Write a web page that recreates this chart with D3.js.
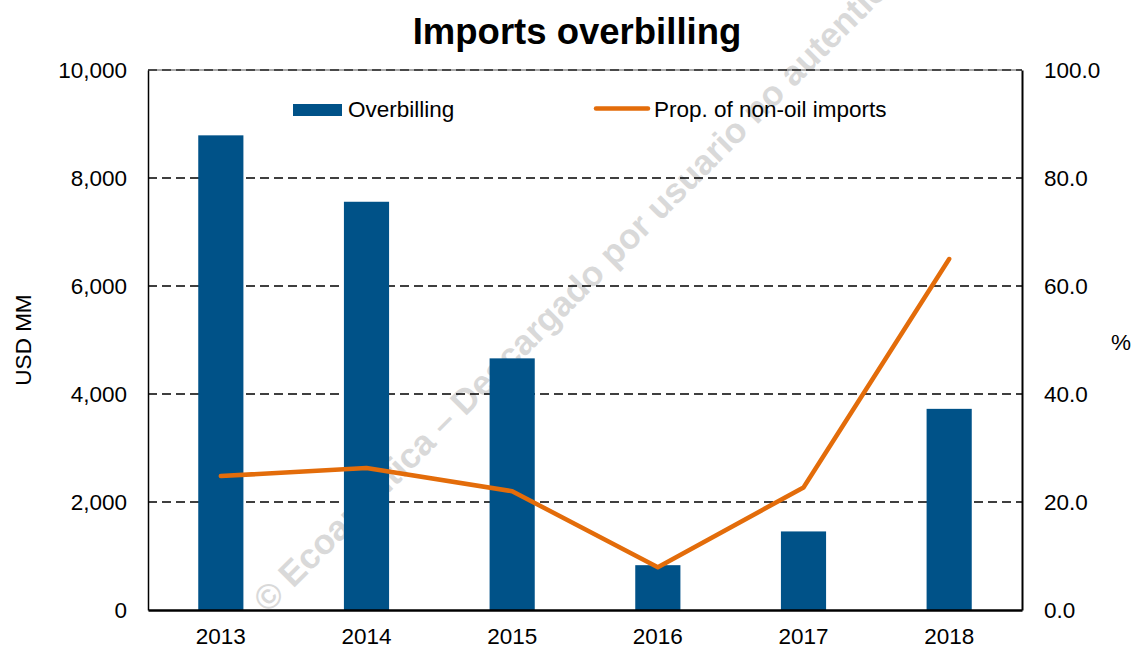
<!DOCTYPE html>
<html>
<head>
<meta charset="utf-8">
<script src="https://cdn.jsdelivr.net/npm/d3@7"></script>
<style>
    body { margin: 0; background: #fff; }
    svg { display: block; font-family: "Liberation Sans", Arial, sans-serif; }
</style>
</head>
<body>
<svg id="chart" width="1132" height="648"></svg>
<script>
// Data
const years = ["2013", "2014", "2015", "2016", "2017", "2018"];
const overbilling = [8790, 7560, 4660, 830, 1455, 3725]; // USD MM
const propNonOil = [24.8, 26.3, 22.0, 7.9, 22.7, 65.0];  // %
const leftTicks = [0, 2000, 4000, 6000, 8000, 10000];
const rightTicks = [0, 20, 40, 60, 80, 100];

const svg = d3.select("#chart");
const margin = { left: 148, right: 1022, top: 70, bottom: 610 };
const barColor = "#005288";
const lineColor = "#E36C0A";
const fontSize = 22.5;

const x = d3.scaleBand()
    .domain(years)
    .range([margin.left, margin.right])
    .paddingInner(0.69)
    .paddingOuter(0.345);
const yLeft = d3.scaleLinear().domain([0, 10000]).range([margin.bottom, margin.top]);
const yRight = d3.scaleLinear().domain([0, 100]).range([margin.bottom, margin.top]);

// Watermark (behind everything)
svg.append("text")
    .attr("transform", "translate(268,614) rotate(-45)")
    .attr("font-size", 35)
    .attr("font-weight", "bold")
    .attr("fill", "#d9d9d9")
    .text("© Ecoanalítica – Descargado por usuario no autenticado");

// Gridlines
svg.append("g")
    .selectAll("line")
    .data(leftTicks.filter(d => d > 0))
    .enter()
    .append("line")
    .attr("x1", margin.left)
    .attr("x2", margin.right)
    .attr("y1", d => yLeft(d))
    .attr("y2", d => yLeft(d))
    .attr("stroke", "#000")
    .attr("stroke-width", 1.5)
    .attr("stroke-dasharray", "9,5");

svg.append("line")
    .attr("x1", margin.left).attr("x2", margin.right)
    .attr("y1", margin.top).attr("y2", margin.top)
    .attr("stroke", "#555").attr("stroke-width", 1);

// Bars
svg.append("g")
    .selectAll("rect")
    .data(overbilling)
    .enter()
    .append("rect")
    .attr("x", (d, i) => x(years[i]))
    .attr("width", x.bandwidth())
    .attr("y", d => yLeft(d))
    .attr("height", d => yLeft(0) - yLeft(d))
    .attr("fill", barColor);

// Line
const line = d3.line()
    .x((d, i) => x(years[i]) + x.bandwidth() / 2)
    .y(d => yRight(d));

svg.append("path")
    .datum(propNonOil)
    .attr("d", line)
    .attr("fill", "none")
    .attr("stroke", lineColor)
    .attr("stroke-width", 4.5)
    .attr("stroke-linejoin", "round")
    .attr("stroke-linecap", "round");

// Axes
const leftAxis = d3.axisLeft(yLeft)
    .tickValues(leftTicks)
    .tickFormat(d3.format(","))
    .tickSize(0)
    .tickPadding(21);
const rightAxis = d3.axisRight(yRight)
    .tickValues(rightTicks)
    .tickFormat(d3.format(".1f"))
    .tickSize(0)
    .tickPadding(22);
const bottomAxis = d3.axisBottom(x)
    .tickSize(0)
    .tickPadding(18);

function styleAxis(g, width) {
    g.select(".domain").attr("stroke", "#000").attr("stroke-width", width);
    g.selectAll("text").attr("font-size", fontSize).attr("fill", "#000")
        .attr("font-family", "'Liberation Sans', Arial, sans-serif");
}

svg.append("g")
    .attr("transform", `translate(${margin.left},0)`)
    .call(leftAxis)
    .call(g => styleAxis(g, 1.5));
svg.append("g")
    .attr("transform", `translate(${margin.right},0)`)
    .call(rightAxis)
    .call(g => styleAxis(g, 2));
svg.append("g")
    .attr("transform", `translate(0,${margin.bottom})`)
    .call(bottomAxis)
    .call(g => styleAxis(g, 2.5));

// Title and axis titles
svg.append("text")
    .attr("x", 577)
    .attr("y", 44)
    .attr("text-anchor", "middle")
    .attr("font-size", 36.5)
    .attr("font-weight", "bold")
    .text("Imports overbilling");

svg.append("text")
    .attr("transform", "translate(31,340) rotate(-90)")
    .attr("text-anchor", "middle")
    .attr("font-size", fontSize)
    .text("USD MM");

svg.append("text")
    .attr("x", 1121)
    .attr("y", 350)
    .attr("text-anchor", "middle")
    .attr("font-size", fontSize)
    .text("%");

// Legend
const legend = svg.append("g");
legend.append("rect")
    .attr("x", 293).attr("y", 104)
    .attr("width", 49).attr("height", 12)
    .attr("fill", barColor);
legend.append("text")
    .attr("x", 348).attr("y", 117)
    .attr("font-size", fontSize)
    .text("Overbilling");
legend.append("line")
    .attr("x1", 596).attr("x2", 648)
    .attr("y1", 108.5).attr("y2", 108.5)
    .attr("stroke", lineColor)
    .attr("stroke-width", 4.5)
    .attr("stroke-linecap", "round");
legend.append("text")
    .attr("x", 654).attr("y", 117)
    .attr("font-size", fontSize)
    .text("Prop. of non-oil imports");
</script>
</body>
</html>
